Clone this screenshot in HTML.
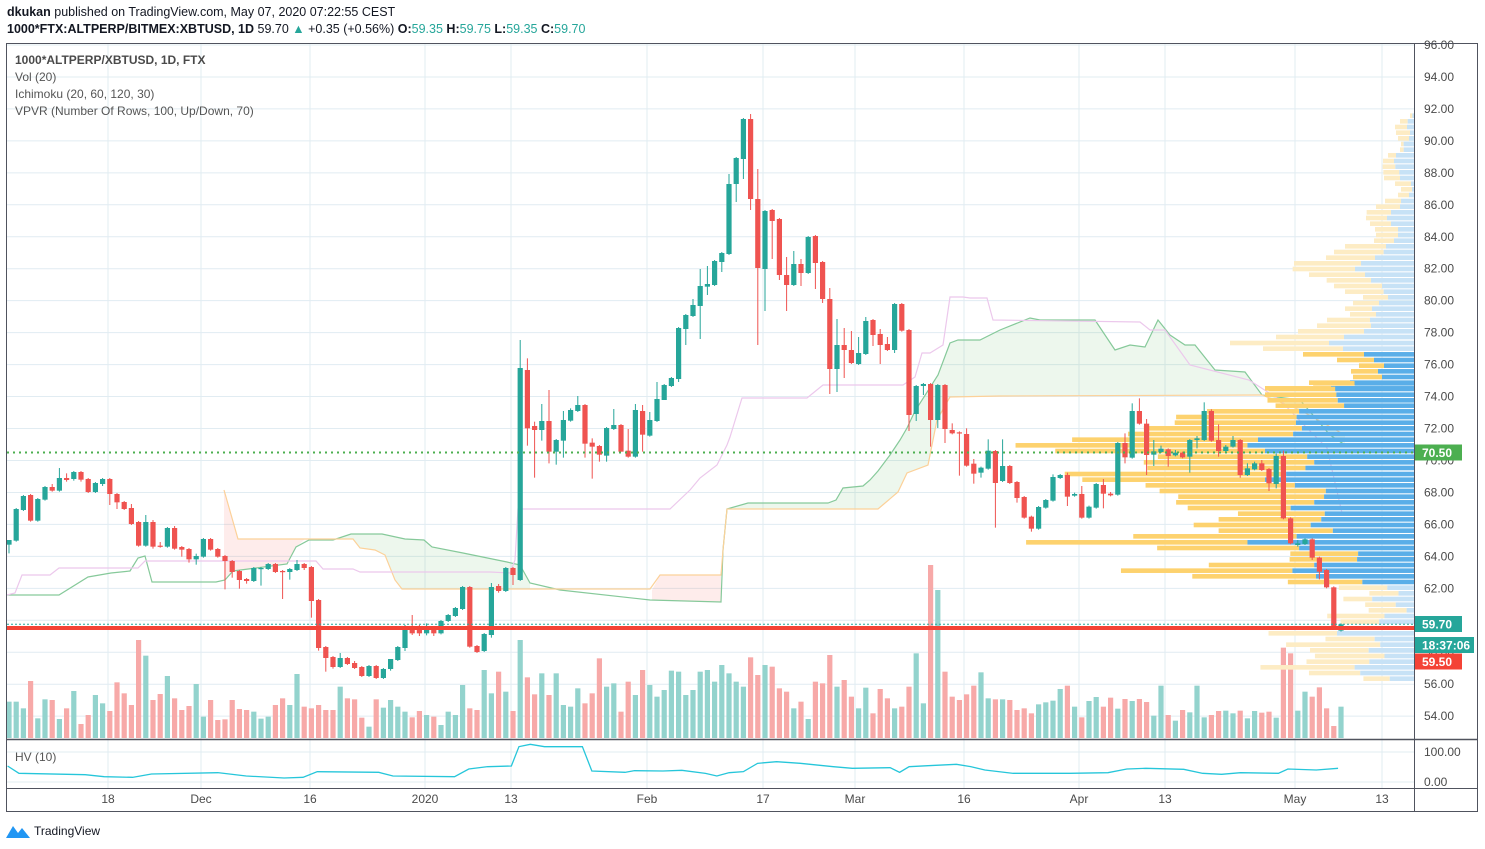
<!DOCTYPE html>
<html><head><meta charset="utf-8"><style>
html,body{margin:0;padding:0;background:#fff;width:1485px;height:849px;overflow:hidden}
svg{position:absolute;left:0;top:0;font-family:"Liberation Sans",sans-serif}
</style></head><body>
<svg id="s" width="1485" height="849" xmlns="http://www.w3.org/2000/svg">
<defs><clipPath id="cp"><rect x="7" y="44" width="1407" height="694"/></clipPath>
<clipPath id="cph"><rect x="7" y="740" width="1407" height="48"/></clipPath></defs>
<text x="7" y="16" font-size="12.5" fill="#131722"><tspan font-weight="bold">dkukan</tspan> published on TradingView.com, May 07, 2020 07:22:55 CEST</text>
<text x="7" y="33" font-size="12.5" fill="#131722"><tspan font-weight="bold">1000*FTX:ALTPERP/BITMEX:XBTUSD, 1D</tspan> 59.70 <tspan fill="#26a69a">▲</tspan> +0.35 (+0.56%) <tspan font-weight="bold">O:</tspan><tspan fill="#26a69a">59.35</tspan> <tspan font-weight="bold">H:</tspan><tspan fill="#26a69a">59.75</tspan> <tspan font-weight="bold">L:</tspan><tspan fill="#26a69a">59.35</tspan> <tspan font-weight="bold">C:</tspan><tspan fill="#26a69a">59.70</tspan></text>
<g id="grid"></g>
<g id="vol" clip-path="url(#cp)"></g>
<g id="ichi" clip-path="url(#cp)"></g>
<g id="vp" clip-path="url(#cp)"></g>
<g id="cdl" clip-path="url(#cp)"></g>
<g id="top"></g>
</svg>
<script>
const NS="http://www.w3.org/2000/svg";
function el(p,t,a,txt){const e=document.createElementNS(NS,t);for(const k in a)e.setAttribute(k,a[k]);if(txt!==undefined)e.textContent=txt;document.getElementById(p).appendChild(e);return e;}
const G="#26a69a",R="#ef5350";
const tl=[[108,"18"],[201,"Dec"],[310,"16"],[425,"2020"],[511,"13"],[647,"Feb"],[763,"17"],[855,"Mar"],[964,"16"],[1079,"Apr"],[1165,"13"],[1295,"May"],[1382,"13"]];
tl.forEach(t=>{el("grid","line",{x1:t[0],x2:t[0],y1:44,y2:788,stroke:"#e1ecf2","stroke-width":1});
 el("top","text",{x:t[0],y:803,"font-size":12,fill:"#4a4a4a","text-anchor":"middle"},t[1]);});
for(let p=96;p>=54;p-=2){const y=45+(96-p)*15.98;
 el("grid","line",{x1:7,x2:1414,y1:y,y2:y,stroke:"#e1ecf2"});
 el("top","text",{x:1424,y:y+4,"font-size":12,fill:"#4a4a4a"},p.toFixed(2));}
[752,782].forEach(y=>el("grid","line",{x1:7,x2:1414,y1:y,y2:y,stroke:"#e1ecf2"}));
el("top","text",{x:1424,y:756,"font-size":12,fill:"#4a4a4a"},"100.00");
el("top","text",{x:1424,y:786,"font-size":12,fill:"#4a4a4a"},"0.00");
const c1=[["g",480,494,480,520],["g",387,482],["g",348,390],["r",345,422],["g",357,422],["g",321,359],["r",321,332,312],["g",294,332,264],["r",294,300,280,305],["g",276,297,,302],["r",276,299,,305],["r",297,336,,339],["g",309,336],["g",297,312,,318],["r",297,342,294,375],["r",342,367,,387],["r",366,387,,390],["r",384,432,372,435],["r",426,497],["g",426,497,405],["r",426,500,420,506],["r",497,500,486],["g",444,500],["r",444,506,438],["r",501,509,,530],["r",507,538,,548],["g",528,538,521,554],["g",477,530],["r",477,509,474],["r",507,530],["r",528,543,,628],["r",543,576,,593],["r",573,600,,626],["r",597,603,,611],["g",564,603],["g",564,567,,617],["g",552,567],["r",552,576],["r",573,576,,657],["g",567,576,,599],["g",552,570,540],["r",552,564,,570],["r",561,663,,713],["r",660,804,,812],["r",801,834,,875],["r",831,861,,866],["g",834,861,819],["r",834,852],["r",849,864,843],["r",861,888],["g",858,888],["r",858,894],["g",867,894],["g",837,867,837,872],["g",801,840],["g",738,804,,813],["r",738,760,705,765],["r",738,760,,768],["g",746,760,730,766],["r",746,760,,768],["g",723,760],["g",705,723],["g",684,708],["g",621,687],["r",621,800],["r",798,816],["g",762,813],["g",621,765,609,773],["r",618,633,612,638],["g",564,633],["r",564,585,,615]];
const c2=[["g",804,1440,720],["r",810,985,775,1037],["r",978,990,965,1133],["g",963,990,912,1022],["r",963,1055,870,1090],["g",1020,1055,,1094],["g",960,1022,933,1073],["g",930,962,925],["g",915,933,888],["r",915,1031,,1073],["r",1028,1040,1015,1136],["r",1038,1064,,1085],["g",984,1067,,1085],["g",975,987,927],["r",975,1055,,1055],["r",1052,1070,987],["g",930,1070,912],["r",933,1004,915,1055],["g",960,1007,936],["g",897,963,846],["g",855,900,,900],["g",834,858],["g",684,837,,846],["g",645,687,,735],["g",615,648,597],["g",558,618,507,717],["g",552,560,498,585],["g",483,555],["g",459,486,,516],["g",252,462,222],["g",174,252,,306],["g",57,177,,237],["r",57,297,42,330],["r",297,504,207,735],["g",333,507,,633],["r",330,363,,477],["r",357,525,,540],["r",525,555,471,633],["g",492,555,453],["r",492,519,477,558],["g",411,519],["r",408,489,405,567],["r",486,597,,609],["r",597,807,564,882],["g",735,807,657,876],["r",735,750,684,834],["r",750,789,693],["g",759,792,711],["g",663,762,651],["r",660,705,657,738],["r",702,735,687,792],["r",732,750,711],["g",612,750,,759],["r",612,692,609],["r",690,945,,993],["g",858,942,,963],["g",852,858,,885],["r",852,960,,1040],["g",855,960,,984],["r",855,987,,1029],["r",990,1000,970],["r",997,1000,,1127],["r",1002,1097,985],["r",1091,1121,1077,1151],["g",1103,1118,,1133],["g",1052,1106,1018]];
const c3=[["r",213,309,,443],["g",258,303,178],["r",258,309],["r",306,354,,368],["r",351,413],["r",410,446,,455],["g",381,446],["g",360,383],["g",291,362,283],["g",285,294],["r",285,350,278,378],["g",342,347,338],["r",342,413,318],["g",380,413],["g",312,383],["r",315,341,297,385],["r",341,346,336],["g",189,344],["r",189,232,160,250],["g",93,233,70],["r",93,131,55],["r",131,225,117,285],["g",214,224,180,258],["g",206,216,197],["r",208,228,,260],["g",218,226,210],["r",218,232],["g",180,230,,278],["g",175,180,168,205],["g",93,180,67],["r",93,182,88],["r",180,213,133,230],["g",200,213,195],["g",180,200,168],["r",180,285,,293],["g",265,285,250],["g",250,268,245],["r",250,270,240],["r",267,310,,333],["g",228,312,220,325],["r",228,415,212],["r",415,490],["g",490,495,480,500],["g",478,492],["r",478,533,,540],["r",533,575,,598],["r",570,622],["r",622,745],["g",733,752]];
const C=[];
c1.forEach(c=>C.push(c.map((v,i)=>i&&v!==undefined?380+v/3:v)));
c2.forEach(c=>C.push(c.map((v,i)=>i&&v!==undefined?100+v/3:v)));
c3.forEach(c=>C.push(c.map((v,i)=>i&&v!==undefined?380+v/3:v)));
const vz=[185,185,205,123,235,178,180,237,205,153,252,225,165,190,213,127,160,195,0,47,180,162,108,175,210,198,132,230,180,240,238,180,207,210,215,236,230,195,175,195,102,200,205,195,210,210,140,175,178,233,260,178,203,180,200,215,232,213,225,230,255,215,225,135,205,210,90,160,95,155,213,0,112,163,100,165,100,195,200,145,190,160,55,140,130,215,125,165,90,135,170,150,92,95,165,150,95,90,125,75,100,125,140,52,105,75,80,145,155,205,185,237,125,130,45,140,120,170,205,143,220,147,175,205,200,140,40,190,0,0,95,170,180,163,137,97,175,178,178,180,210,205,220,193,187,182,147,137,200,232,183,171,200,173,206,177,183,177,186,227,137,225,242,210,217,137,232,225,213,212,220,212,235,213,218,215,233,23,40,212,155,170,142,205,258];
C.forEach((c,i)=>{const x=9+i*7.2;let top=640+(vz[i]!==undefined?vz[i]:200)/3;
 if(i==71)top=640;if(i==128)top=565;if(i==129)top=590;
 el("vol","rect",{x:x-2.6,y:top,width:5.2,height:739-top,fill:c[0]=="g"?"#93d3cd":"#f7a9a8"});});
function pts(a){return a.map(p=>p.join(",")).join(" ");}
el("ichi","polygon",{points:pts([[224,490],[238,539],[305,539],[296,547],[287,564],[233,571],[224,580]]),fill:"rgba(244,67,54,0.1)"});
el("ichi","polygon",{points:pts([[305,540],[333,540],[351,534],[382,534],[405,539],[424,540],[432,547],[463,553],[507,562],[520,565],[530,583],[530,589],[402,589],[395,580],[385,555],[375,550],[360,548],[353,539]]),fill:"rgba(76,175,80,0.1)"});
el("ichi","polygon",{points:pts([[652,590],[660,575],[721,575],[721,602],[652,600]]),fill:"rgba(244,67,54,0.1)"});
const spA2=[[727,509],[748,503],[828,503],[836,500],[843,488],[863,486],[870,480],[878,471],[890,455],[900,440],[907,428],[915,411],[938,375],[950,343],[958,340],[980,340],[1000,330],[1030,318],[1040,320],[1095,320],[1115,350],[1130,345],[1145,347],[1158,320],[1170,335],[1185,345],[1195,345],[1215,370],[1245,372],[1262,395],[1300,400],[1330,435],[1345,445]];
const spB2=[[1345,435],[1300,410],[1262,395],[1000,396],[950,397],[937,420],[928,465],[907,473],[898,492],[878,509],[727,509]];
el("ichi","polygon",{points:pts(spA2.concat(spB2)),fill:"rgba(76,175,80,0.1)"});
const spA=[[7,595],[59,595],[88,577],[111,573],[130,571],[138,558],[145,556],[152,582],[216,582],[225,580],[233,571],[287,564],[296,547],[309,540],[333,540],[351,534],[382,534],[405,539],[424,540],[432,547],[463,553],[507,562],[520,565],[530,583],[560,590],[650,600],[721,602],[723,550]].concat(spA2);
const spB=[[224,490],[238,539],[353,539],[360,548],[375,550],[385,555],[395,580],[402,589],[650,589],[660,575],[721,575],[723,550]].concat(spB2.slice().reverse());
el("ichi","polyline",{points:pts(spA),fill:"none",stroke:"#86c99a","stroke-width":1.2});
el("ichi","polyline",{points:pts(spB),fill:"none",stroke:"#fcd199","stroke-width":1.2});
const pk=[[7,595],[15,593],[22,575],[50,575],[59,568],[138,568],[145,561],[316,561],[323,569],[353,569],[360,572],[490,572],[510,573],[515,560],[518,509],[670,509],[690,490],[700,478],[717,465],[727,445],[730,437],[742,398],[807,398],[823,385],[903,385],[915,377],[922,353],[930,353],[943,345],[950,297],[963,297],[970,298],[987,298],[993,320],[1140,322],[1150,330],[1165,330],[1190,365],[1249,380],[1280,400],[1305,426],[1327,448],[1342,513]];
el("ichi","polyline",{points:pts(pk),fill:"none",stroke:"#ecc8ec","stroke-width":1.2});
const r4=[[47,510,517],[64,480,503],[81,465,501],[98,468,510],[115,474,507],[132,483,491],[149,480,491],[166,444,468],[183,429,462],[200,428,466],[217,430,478],[234,432,480],[251,465,513],[268,483,516],[285,474,507],[303,435,483],[320,408,480],[337,380,453],[354,378,441],[371,390,453],[388,405,474],[405,408,474],[422,402,462],[439,315,438],[456,282,431],[473,258,405],[490,162,363],[507,158,345],[524,207,375],[541,260,393],[558,282,426],[575,315,431],[592,369,444],[609,339,417],[626,315,396],[643,330,408],[660,261,390],[677,231,393],[694,174,372],[711,108,312],[729,-30,267],[746,69,309],[763,189,372,1],[780,291,402,1],[797,357,432,1],[814,333,414,1],[831,339,426,1],[848,207,330,1],[865,75,273,1]];
const r3=[[10,1062,1180,1],[27,935,1125,1],[44,925,1128,1],[61,932,1132,1],[77,955,1150,1],[94,760,1022,1],[111,672,1015,1],[128,668,1013,1],[145,580,1030,1],[162,535,1005,1],[179,376,905,1],[196,215,875,1],[213,328,925,1],[230,620,1045,1],[247,580,1065,1],[264,590,1040,1],[282,355,985,1],[299,405,925,1],[316,585,1010,1],[333,625,1098,1],[350,678,1093,1],[367,672,1065,1],[384,705,998,1],[401,848,1095,1],[418,793,1085,1],[435,722,1055,1],[452,793,1118,1],[469,550,1015,1],[487,245,875,1],[504,618,1022,1],[521,997,1190,1],[538,995,1187,1],[555,765,1065,1],[572,515,1003,1],[589,718,1070,1],[606,990,1202,1],[623,1135,1273],[640,1222,1305],[657,1148,1230],[674,1210,1297],[691,1220,1328],[708,1102,1265],[725,1140,1250],[760,935,1130],[777,1097,1237],[794,985,1253],[811,1053,1220],[828,1067,1265],[845,1043,1222],[862,912,1180],[879,1050,1196],[896,1205,1280]];
function vrow(y,xs,xb,dark){const h=4.6;
 el("vp","rect",{x:xs,y:y-h/2,width:xb-xs,height:h,fill:dark?"#fdd26e":"#fdecc4"});
 el("vp","rect",{x:xb,y:y-h/2,width:1414-xb,height:h,fill:dark?"#5aaee8":"#c7e2f6"});}
r4.forEach(r=>vrow(100+r[0]/3,1240+r[1]/3,1240+r[2]/3,r[3]));
r3.forEach(r=>vrow(380+r[0]/3,940+r[1]/2.846,940+r[2]/2.846,r[3]));
C.forEach((c,i)=>{const x=9+i*7.2,col=c[0]=="g"?G:R;const t=Math.min(c[1],c[2]),b=Math.max(c[1],c[2]);
 const hi=c[3]!==undefined?c[3]:t-1,lo=c[4]!==undefined?c[4]:b+1;
 el("cdl","line",{x1:x,x2:x,y1:hi,y2:lo,stroke:col,"stroke-width":1});
 el("cdl","rect",{x:x-2.6,y:t,width:5.2,height:Math.max(b-t,1.2),fill:col});});
el("cdl","line",{x1:7,x2:1414,y1:452.5,y2:452.5,stroke:"#4caf50","stroke-width":2,"stroke-dasharray":"2,4"});
el("cdl","line",{x1:7,x2:1414,y1:628,y2:628,stroke:"#f44336","stroke-width":4});
el("cdl","line",{x1:7,x2:1414,y1:624.3,y2:624.3,stroke:G,"stroke-width":1,"stroke-dasharray":"2,2"});
const hv=[[8,378],[20,400],[90,404],[110,410],[140,412],[160,402],[230,398],[260,408],[300,414],[320,412],[335,395],[400,397],[415,408],[480,410],[495,387],[515,380],[540,378],[548,320],[560,313],[575,320],[615,320],[625,393],[660,397],[670,392],[700,393],[720,391],[745,400],[757,408],[770,398],[785,395],[800,370],[820,365],[845,370],[880,380],[900,385],[940,383],[950,397],[960,380],[980,377],[1010,373],[1025,380],[1040,390],[1070,400],[1100,400],[1130,400],[1170,398],[1190,387],[1210,385],[1250,388],[1270,400],[1290,403],[1310,398],[1350,400],[1360,387],[1390,390],[1413,385]].map(p=>[p[0]/1.056,640+p[1]/3]);
el("top","polyline",{points:pts(hv),fill:"none",stroke:"#26c6da","stroke-width":1.3,"clip-path":"url(#cph)"});
el("top","rect",{x:6.5,y:43.5,width:1471,height:768,fill:"none",stroke:"#50535e","stroke-width":1});
el("top","line",{x1:1414.5,x2:1414.5,y1:44,y2:812,stroke:"#50535e"});
el("top","line",{x1:7,x2:1478,y1:739.5,y2:739.5,stroke:"#50535e","stroke-width":1.5});
el("top","line",{x1:7,x2:1478,y1:788.5,y2:788.5,stroke:"#50535e","stroke-width":1});
el("top","text",{x:15,y:64,"font-size":12,"font-weight":"bold",fill:"#4a4a4a"},"1000*ALTPERP/XBTUSD, 1D, FTX");
[["Vol (20)",81],["Ichimoku (20, 60, 120, 30)",98],["VPVR (Number Of Rows, 100, Up/Down, 70)",115]].forEach(t=>el("top","text",{x:15,y:t[1],"font-size":12,fill:"#555"},t[0]));
el("top","text",{x:15,y:761,"font-size":12,fill:"#555"},"HV (10)");
function badge(y,w,col,txt){el("top","rect",{x:1415,y:y-8,width:w,height:16,fill:col});el("top","text",{x:1422,y:y+4.5,"font-size":12,"font-weight":"bold",fill:"#fff"},txt);}
badge(452.5,47,"#4caf50","70.50");badge(624,47,"#26a69a","59.70");badge(645,59,"#26a69a","18:37:06");badge(661.5,47,"#f44336","59.50");
el("top","path",{d:"M6 838 L13 826 L18 833 L22 828 L30 838 Z",fill:"#2196f3"});
el("top","text",{x:34,y:835,"font-size":12,fill:"#131722"},"TradingView");
</script>
</body></html>
